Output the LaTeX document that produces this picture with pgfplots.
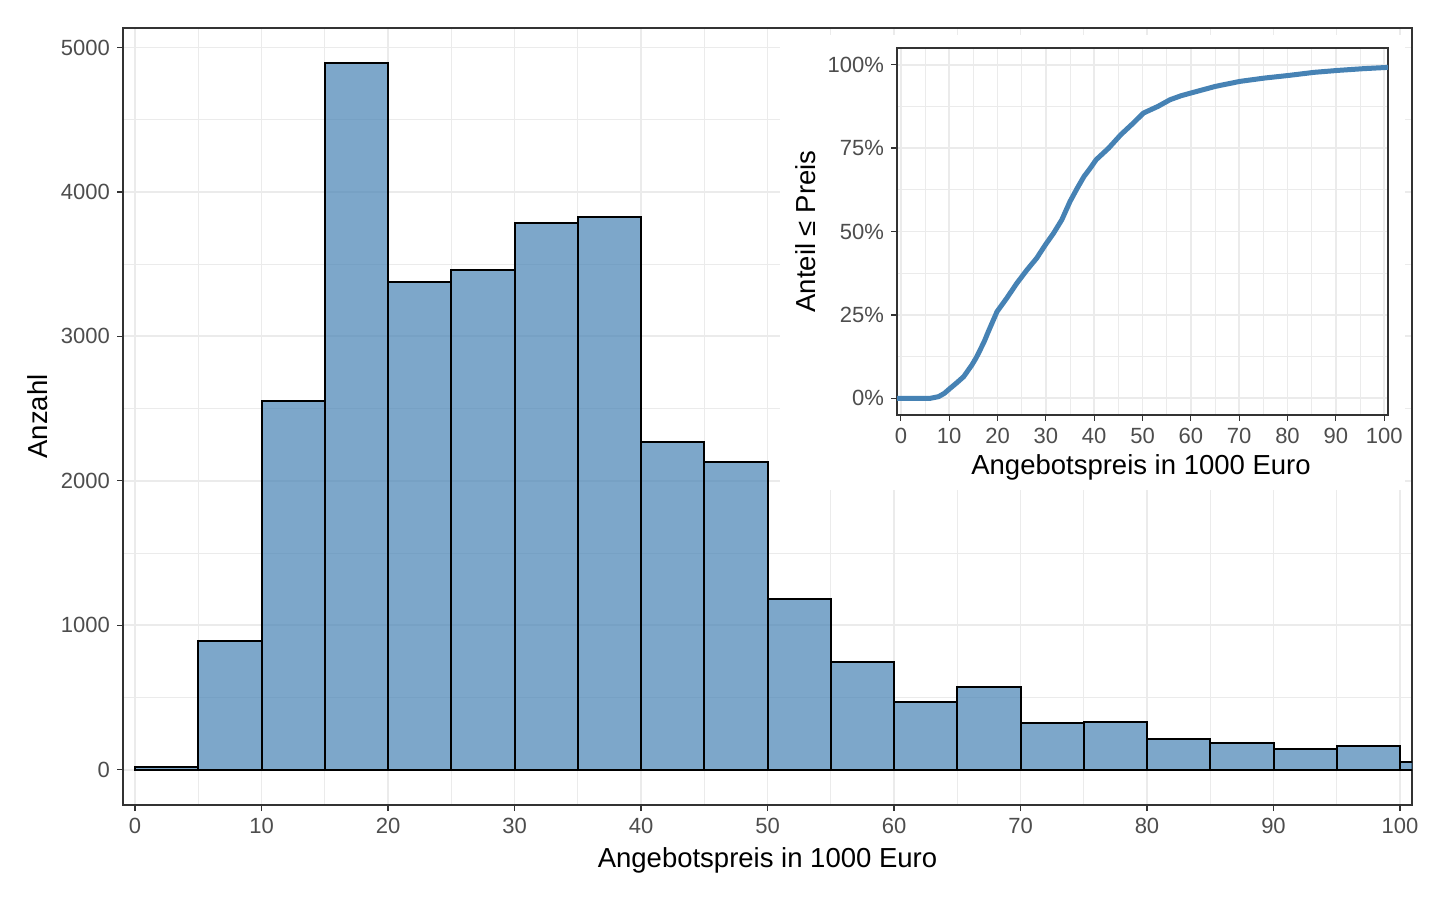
\documentclass[border=0pt]{standalone}
\usepackage{fontspec}
\setmainfont{Liberation Sans}
\usepackage{pgfplots}
\pgfplotsset{compat=1.18}
\definecolor{steel}{RGB}{70,130,180}
\definecolor{gridc}{RGB}{235,235,235}
\definecolor{framec}{RGB}{51,51,51}
\definecolor{ticklab}{RGB}{77,77,77}
\pgfplotsset{
  ggstyle/.style={
    scale only axis,
    axis line style={framec, line width=0.6pt},
    tick style={framec, line width=0.6pt},
    major tick length=3pt, minor tick length=0pt,
    tick align=outside, tick pos=left,
    grid=both,
    major grid style={gridc, line width=0.9pt},
    minor grid style={gridc, line width=0.45pt},
    ticklabel style={font=\fontsize{11}{12}\selectfont, text=ticklab},
    /pgf/number format/assume math mode=true,
    /pgf/number format/1000 sep={},
    label style={font=\fontsize{13.75}{15}\selectfont, text=black},
  }
}
\begin{document}
\begin{tikzpicture}
\path[use as bounding box] (0,0) rectangle (720pt,450pt);
\begin{axis}[ggstyle,
  at={(61.5pt,47.5pt)}, anchor=south west,
  width=644.5pt, height=388.5pt,
  xmin=-0.95, xmax=100.95, ymin=-245, ymax=5135,
  xtick={0,10,...,100}, minor xtick={5,15,...,95},
  ytick={0,1000,...,5000}, minor ytick={500,1500,...,4500},
  xlabel={Angebotspreis in 1000 Euro},
  ylabel={Anzahl},
  xlabel style={at={(axis description cs:0.5,-0.071)}, anchor=center},
  ylabel style={at={(axis description cs:-0.066,0.5)}, anchor=center},
]
\addplot[ybar interval, fill=steel, fill opacity=0.7, draw=black, draw opacity=1, line width=1pt] coordinates {
(0,15) (5,890) (10,2555) (15,4890) (20,3377) (25,3460) (30,3785) (35,3826)
(40,2265) (45,2127) (50,1181) (55,746) (60,470) (65,573) (70,325) (75,331)
(80,214) (85,186) (90,145) (95,166) (100,55) (105,55)};
\end{axis}
\fill[white] (390pt,205pt) rectangle (702.5pt,432.5pt);
\begin{axis}[ggstyle,
  at={(448.5pt,242.5pt)}, anchor=south west,
  width=245.5pt, height=183.5pt,
  xmin=-0.8, xmax=100.8, ymin=-0.05, ymax=1.05,
  xtick={0,10,...,100}, minor xtick={5,15,...,95},
  ytick={0,0.25,0.5,0.75,1}, yticklabels={0\%,25\%,50\%,75\%,100\%},
  minor ytick={0.125,0.375,0.625,0.875},
  xlabel={Angebotspreis in 1000 Euro},
  ylabel={Anteil ≤ Preis},
  xlabel style={at={(axis description cs:0.497,-0.142)}, anchor=center},
  ylabel style={at={(axis description cs:-0.187,0.5)}, anchor=center},
]
\addplot[steel, line width=2.5pt, line join=round] coordinates {
(-1,0) (0,0) (6.1,0) (7.8,0.005) (9,0.015) (10.2,0.03) (11.6,0.047) (13.0,0.065)
(14.7,0.10) (15.6,0.122) (16.4,0.145) (17.3,0.172) (18.1,0.20) (19.0,0.23)
(19.9,0.26) (21.9,0.30) (24.0,0.345) (26.1,0.385) (28.1,0.42) (29.9,0.46)
(31.6,0.495) (33.3,0.535) (35.0,0.59) (36.5,0.63) (37.9,0.665) (39.2,0.69)
(40.4,0.715) (43,0.75) (45.5,0.79) (48.1,0.825) (50.2,0.855) (53.2,0.875)
(55.7,0.895) (58,0.907) (60,0.915) (65.1,0.935) (70.2,0.95) (75.3,0.96)
(80.4,0.968) (85.5,0.977) (90.6,0.983) (95.7,0.988) (100.9,0.992)};
\end{axis}
\end{tikzpicture}
\end{document}
